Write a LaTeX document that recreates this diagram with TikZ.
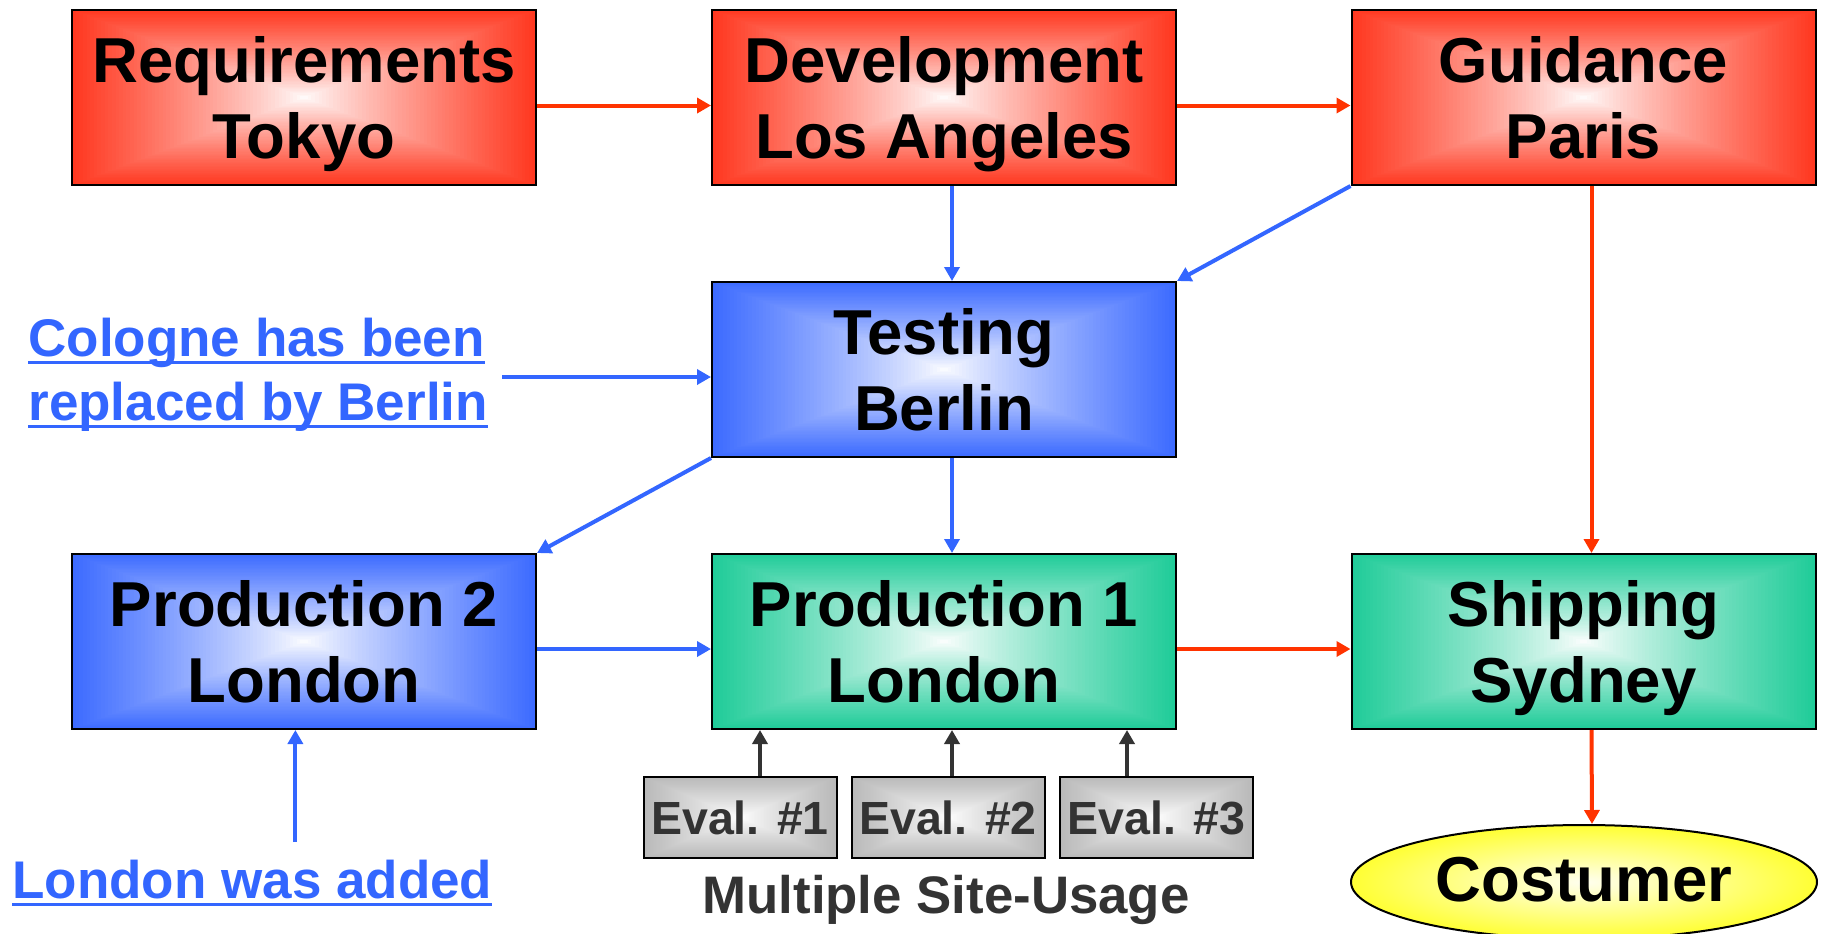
\documentclass[tikz,border=0pt]{standalone}
\usepackage{fontspec}
\setmainfont{Liberation Sans}
\usetikzlibrary{arrows.meta,shapes.geometric,calc}
\definecolor{RB}{RGB}{255,56,32}
\definecolor{RA}{RGB}{255,51,0}
\definecolor{BB}{RGB}{61,107,255}
\definecolor{BA}{RGB}{51,102,255}
\definecolor{GB}{RGB}{32,204,153}
\definecolor{YB}{RGB}{255,255,51}
\definecolor{EB}{RGB}{185,185,185}
\definecolor{DG}{RGB}{51,51,51}
% rectangular "from centre" gradient, built from nested rectangles
\newcommand\rectshade[1]{%
 \foreach \i in {0,...,63}{%
   \pgfmathsetmacro\tt{1-\i/64}%
   \pgfmathsetmacro\pc{100*(\tt^0.85)}%
   \fill[#1!\pc!white] ($(path picture bounding box.center)!\tt!(path picture bounding box.north west)$)
      rectangle ($(path picture bounding box.center)!\tt!(path picture bounding box.south east)$);
 }%
}
\newcommand\mstrut{\rule[-7pt]{0pt}{36.7pt}}
\newcommand\twol[2]{\mstrut#1\\\mstrut#2}
\newcommand\ulx[1]{\setbox0\hbox{#1}\rlap{\rule[-3.75pt]{\wd0}{1.5pt}}\box0}
\begin{document}
\begin{tikzpicture}[x=0.5pt,y=-0.5pt,
 gbox/.style={draw=black, line width=1pt, minimum width=232pt, minimum height=87.5pt,
   inner sep=0pt, align=center, font=\bfseries\fontsize{31.75pt}{38pt}\selectfont,
   path picture={\rectshade{#1}}},
 ebox/.style={draw=black, line width=1pt, minimum width=96.5pt, minimum height=40.5pt,
   inner sep=0pt, text=DG, font=\bfseries\fontsize{23.25pt}{28pt}\selectfont,
   path picture={\rectshade{EB}}},
 note/.style={inner sep=0pt, text=BA, font=\bfseries\fontsize{26.5pt}{32pt}\selectfont},
 arr/.style={line width=2pt, -{Triangle[length=7pt,width=7.5pt]}},
 rarr/.style={arr, draw=RA},
 barr/.style={arr, draw=BA},
 garr/.style={arr, draw=DG},
]
\fill[white] (0,0) rectangle (1822,933);
\useasboundingbox (0,0) rectangle (1822,933);

% main boxes
\node[gbox=RB] (req)  at (304,97.5)    {\twol{Requirements}{Tokyo}};
\node[gbox=RB] (dev)  at (944,97.5)    {\twol{Development}{Los Angeles}};
\node[gbox=RB] (gui)  at (1583.5,97.5) {\twol{Guidance}{Paris}};
\node[gbox=BB] (test) at (944,369.5)   {\twol{Testing}{Berlin}};
\node[gbox=BB] (p2)   at (304,641.5)   {\twol{Production 2}{London}};
\node[gbox=GB] (p1)   at (944,641.5)   {\twol{Production 1}{London}};
\node[gbox=GB] (ship) at (1583.5,641.5){\twol{Shipping}{Sydney}};

% customer
\node[ellipse, draw=black, line width=1pt, minimum width=233pt, minimum height=57pt,
      inner sep=0pt, shading=radial, inner color=YB!8!white, outer color=YB,
      font=\bfseries\fontsize{31.75pt}{38pt}\selectfont]
      (cost) at (1584,882) {\rule[-7pt]{0pt}{33.7pt}Costumer};

% evaluation boxes
\node[ebox] (e1) at (740,817.5)    {\rule[-5pt]{0pt}{26.6pt}Eval. \#1};
\node[ebox] (e2) at (948,817.5)    {\rule[-5pt]{0pt}{26.6pt}Eval. \#2};
\node[ebox] (e3) at (1156.5,817.5) {\rule[-5pt]{0pt}{26.6pt}Eval. \#3};
\node[inner sep=0pt, anchor=base, text=DG, font=\bfseries\fontsize{26.4pt}{32pt}\selectfont]
      (mu) at (946,913) {Multiple Site-Usage};

% notes
\node[note, anchor=west, align=left] (cb) at (28,370)
  {\rule[-5pt]{0pt}{29pt}\ulx{Cologne has been}\\\rule[-5pt]{0pt}{29pt}\ulx{replaced by Berlin}};
\node[note, anchor=base west] (lw) at (12,898) {\ulx{London was added}};

% red flow
\draw[rarr] ([yshift=-4pt]req.east) -- ([yshift=-4pt]dev.west);
\draw[rarr] ([yshift=-4pt]dev.east) -- ([yshift=-4pt]gui.west);
\draw[rarr] ([xshift=4pt]gui.south) -- ([xshift=4pt]ship.north);
\draw[rarr] ([yshift=-3.75pt]p1.east) -- ([yshift=-3.75pt]ship.west);
\draw[rarr] ([xshift=4pt]ship.south) -- ([xshift=4pt]cost.north);

% blue flow
\draw[barr] ([xshift=4pt]dev.south) -- ([xshift=4pt]test.north);
\draw[barr] (gui.south west) -- (test.north east);
\draw[barr] ([xshift=4pt]test.south) -- ([xshift=4pt]p1.north);
\draw[barr] (test.south west) -- (p2.north east);
\draw[barr] ([yshift=-3.75pt]p2.east) -- ([yshift=-3.75pt]p1.west);
\coordinate (t1) at ([yshift=-3.75pt]test.west);
\coordinate (c1) at ([xshift=7pt]cb.east);
\draw[barr] (c1 |- t1) -- (t1);
\coordinate (l1) at ([xshift=21.5pt,yshift=28pt]lw.base);
\draw[barr] (l1) -- (l1 |- p2.south);

% evaluation arrows
\coordinate (a1) at ([xshift=10pt]e1.north);
\coordinate (a2) at ([xshift=2pt]e2.north);
\coordinate (a3) at ([xshift=-14.75pt]e3.north);
\draw[garr] (a1) -- (a1 |- p1.south);
\draw[garr] (a2) -- (a2 |- p1.south);
\draw[garr] (a3) -- (a3 |- p1.south);
\end{tikzpicture}
\end{document}
